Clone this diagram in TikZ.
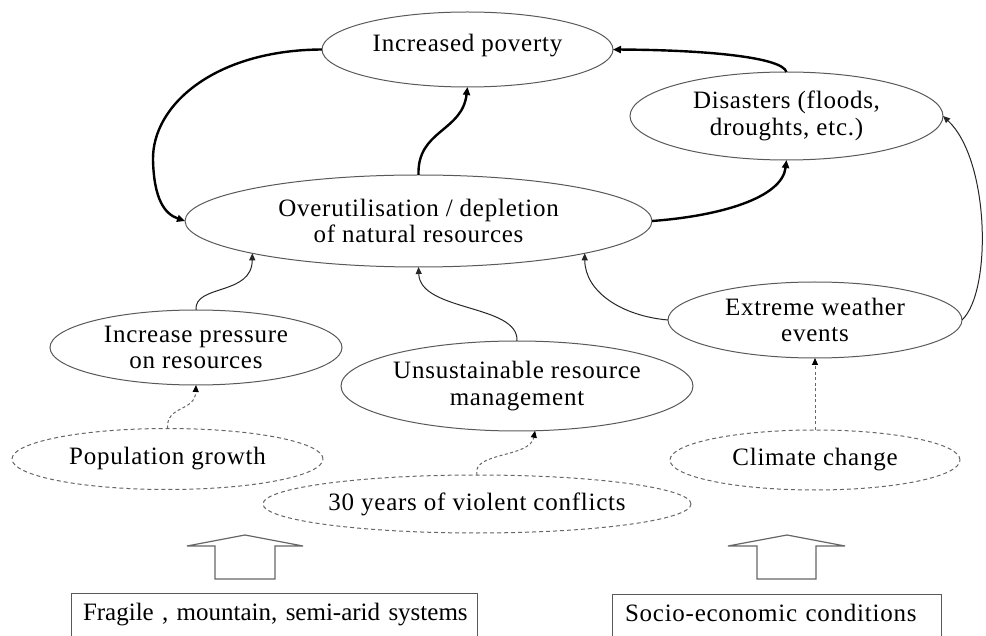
\documentclass[tikz,border=0pt]{standalone}
\usepackage{fontspec}
\setmainfont[LetterSpace=3]{Liberation Serif}
\usetikzlibrary{shapes.geometric,arrows.meta}

\begin{document}
\begin{tikzpicture}[x=1pt,y=-1pt,
  every node/.style={font=\fontsize{25}{26.5}\selectfont, align=center, inner sep=0pt, outer sep=0pt},
  oval/.style={ellipse, draw=black!65, line width=1pt},
  dashoval/.style={ellipse, draw=black!60, line width=1pt, dash pattern=on 4pt off 3pt},
  box/.style={rectangle, draw=black!65, line width=1pt, align=left, text height=27pt, text depth=50pt},
  strong/.style={line width=2.4pt, -{Triangle[length=8pt,width=7pt]}},
  weak/.style={line width=1pt, draw=black!85, -{Triangle[length=7pt,width=6pt]}},
  dotted link/.style={line width=1pt, draw=black!60, dash pattern=on 3pt off 2.5pt, -{Triangle[length=7pt,width=6pt,color=black,fill=black]}},
  blockarrow/.style={draw=black!60, line width=1.2pt, line join=miter}
]
\useasboundingbox (0,0) rectangle (986,636);
\clip (0,0) rectangle (986,636);

% outcome and driver ellipses
\node[oval, minimum width=291pt, minimum height=75pt, text depth=14pt] (pov) at (467.5,49.5) {Increased poverty};
\node[oval, minimum width=313pt, minimum height=88pt] (dis) at (786.5,116) {Disasters (floods,\\droughts, etc.)};
\node[oval, minimum width=467pt, minimum height=92pt] (over) at (418.5,221) {Overutilisation / depletion\\of natural resources};
\node[oval, minimum width=292pt, minimum height=75pt] (press) at (196,347.5) {Increase pressure\\on resources};
\node[oval, minimum width=352pt, minimum height=90pt] (uns) at (517,386) {Unsustainable resource\\management};
\node[oval, minimum width=294pt, minimum height=76pt] (ext) at (815,320) {Extreme weather\\events};

% root causes (dashed)
\node[dashoval, minimum width=311pt, minimum height=61pt] (pop) at (167.5,459) {Population growth};
\node[dashoval, minimum width=428pt, minimum height=58pt] (war) at (477,504) {30 years of violent conflicts};
\node[dashoval, minimum width=290pt, minimum height=60pt] (clim) at (815,460) {Climate change};

% base conditions
\node[box, anchor=north west, text width=382pt, inner xsep=12pt] (frag) at (71,593) {\addfontfeature{LetterSpace=0}\mbox{Fragile , mountain, semi-arid systems}};
\node[box, anchor=north west, text width=303pt, inner xsep=13pt] (soc) at (612,594) {\mbox{Socio-economic conditions}};

% hollow block arrows above the base boxes
\draw[blockarrow] (215,579) -- (215,546) -- (187,546) -- (245,535) -- (303,546) -- (275,546) -- (275,579) -- cycle;
\draw[blockarrow] (757,579) -- (757,546) -- (728,546) -- (787,535) -- (845,546) -- (816,546) -- (816,579) -- cycle;

% main feedback loop
\draw[strong] (pov.west) .. controls (215,50) and (152,105) .. (153,160) .. controls (154,200) and (165,214) .. (over.west);
\draw[strong] (over.north) .. controls (417,130) and (462,132) .. (pov.south);
\draw[strong] (over.east) .. controls (720,216) and (782,198) .. (dis.south);
\draw[strong] (dis.north) .. controls (782,57) and (705,50) .. (pov.east);

% contributing links
\draw[weak] (ext.east) .. controls (992,292) and (990,160) .. (dis.east);
\draw[weak] (ext.west) .. controls (622,316) and (585,292) .. (over.-11);
\draw[weak] (uns.north) .. controls (519,304) and (420,312) .. (over.south);
\draw[weak] (press.north) .. controls (194,284) and (252,296) .. (over.191);

% root cause links
\draw[dotted link] (pop.north) .. controls (166,405) and (195,412) .. (press.south);
\draw[dotted link] (war.north) .. controls (471,452) and (530,458) .. (uns.-68);
\draw[dotted link] (clim.north) -- (ext.south);
\end{tikzpicture}
\end{document}
